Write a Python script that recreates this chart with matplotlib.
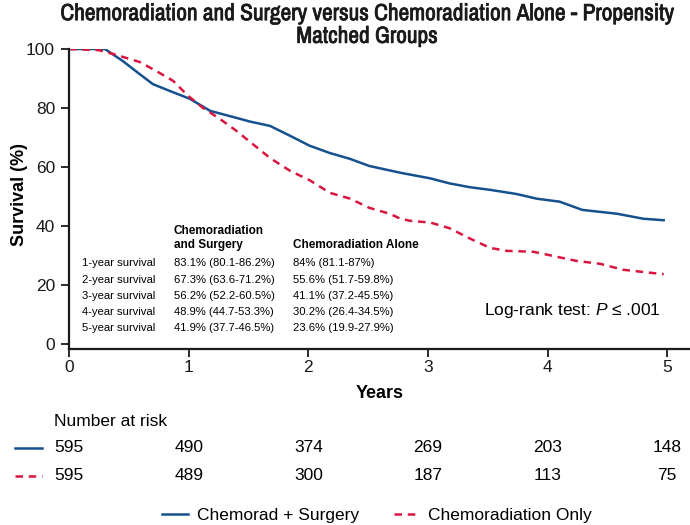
import matplotlib
matplotlib.use("Agg")
import matplotlib.pyplot as plt
import matplotlib.patheffects as pe
from matplotlib.lines import Line2D
from matplotlib.transforms import blended_transform_factory
from matplotlib import font_manager

plt.rcParams['font.family'] = ['Liberation Sans', 'DejaVu Sans']
plt.rcParams['mathtext.fontset'] = 'custom'
plt.rcParams['mathtext.it'] = 'Liberation Sans:italic'
plt.rcParams['mathtext.rm'] = 'Liberation Sans'

# Kaplan-Meier curves (years, survival %)
surgery_t = [0, 0.30, 0.45, 0.59, 0.70, 0.84, 1.01, 1.18, 1.43, 1.51, 1.68, 1.85,
             2.01, 2.18, 2.35, 2.51, 2.77, 3.02, 3.18, 3.35, 3.52, 3.74, 3.91,
             4.10, 4.29, 4.58, 4.80, 4.97]
surgery_s = [100, 100, 95.9, 91.5, 88.1, 85.8, 83.1, 79.0, 76.3, 75.4, 73.9, 70.5,
             67.2, 64.7, 62.7, 60.3, 58.0, 56.1, 54.4, 53.1, 52.2, 50.8, 49.2,
             48.2, 45.4, 44.1, 42.4, 41.9]
chemo_t = [0, 0.25, 0.37, 0.59, 0.73, 0.87, 0.99, 1.12, 1.26, 1.40, 1.54, 1.68,
           1.85, 2.01, 2.18, 2.35, 2.51, 2.68, 2.77, 2.85, 3.02, 3.18, 3.35, 3.52,
           3.66, 3.88, 4.02, 4.24, 4.44, 4.63, 4.85, 4.97]
chemo_s = [100, 99.6, 98.3, 95.6, 92.5, 89.2, 84.3, 80.0, 76.3, 72.2, 67.6, 63.0,
           58.6, 55.5, 51.2, 49.2, 46.1, 44.1, 42.4, 41.7, 41.1, 39.2, 35.7, 32.5,
           31.5, 31.2, 30.0, 28.1, 27.1, 25.1, 24.1, 23.6]

risk_years = [0, 1, 2, 3, 4, 5]
risk_surgery = [595, 490, 374, 269, 203, 148]
risk_chemo = [595, 489, 300, 187, 113, 75]

table_rows = ["1-year survival", "2-year survival", "3-year survival",
              "4-year survival", "5-year survival"]
table_surgery = ["83.1% (80.1-86.2%)", "67.3% (63.6-71.2%)", "56.2% (52.2-60.5%)",
                 "48.9% (44.7-53.3%)", "41.9% (37.7-46.5%)"]
table_chemo = ["84% (81.1-87%)", "55.6% (51.7-59.8%)", "41.1% (37.2-45.5%)",
               "30.2% (26.4-34.5%)", "23.6% (19.9-27.9%)"]

blue = "#15508f"
red = "#d8163f"
dash = (3.0, 2.3)

W, H = 690, 525
fig = plt.figure(figsize=(W / 100, H / 100), dpi=100)
ax = fig.add_axes([69 / W, 1 - 349 / H, (690 - 69) / W, 300 / H])


def fy(py):
    # pixel row -> figure fraction
    return 1 - py / H


ax.plot(surgery_t, surgery_s, color=blue, lw=1.8, solid_joinstyle="round")
ax.plot(chemo_t, chemo_s, color=red, lw=1.8, dashes=dash)

ax.set_xlim(0, 5.19)
ax.set_ylim(-1.8, 100)
ax.set_xticks(risk_years)
ax.set_yticks([0, 20, 40, 60, 80, 100])
for s in ["top", "right"]:
    ax.spines[s].set_visible(False)
for s in ["left", "bottom"]:
    ax.spines[s].set_linewidth(1.6)
    ax.spines[s].set_color("#1a1a1a")
ax.tick_params(direction="out", length=6, width=1.3, labelsize=12.5,
               colors="#1a1a1a", pad=4)
ax.tick_params(axis="x", pad=2)
ax.set_xlabel("Years", fontsize=13, fontweight="bold", labelpad=7)

fig.text(20 / W, fy(195), "Survival (%)", rotation=90, fontsize=13,
         fontweight="bold", ha="center", va="center")

# title: condensed face, thickened a little to look bold
title = "Chemoradiation and Surgery versus Chemoradiation Alone - Propensity\nMatched Groups"
narrow = [f.name for f in font_manager.fontManager.ttflist if "Narrow" in f.name]
if narrow:
    fig.text(367 / W, fy(25), title, family=[narrow[0], "Liberation Sans"],
             fontsize=16.8, fontweight="bold", ha="center", va="center", linespacing=1.1,
             path_effects=[pe.withStroke(linewidth=0.55, foreground="#1a1a1a")],
             color="#1a1a1a")
else:
    fig.text(367 / W, fy(25), title, fontsize=12.2, fontweight="bold",
             ha="center", va="center", linespacing=1.3)

# survival table inside the plot
fig.text(174 / W, fy(231), "Chemoradiation", fontsize=8.5, fontweight="bold", va="center")
fig.text(174 / W, fy(245), "and Surgery", fontsize=8.5, fontweight="bold", va="center")
fig.text(293 / W, fy(245), "Chemoradiation Alone", fontsize=8.5, fontweight="bold", va="center")
row_y = [263, 280, 296, 312, 328]
for lab, a, b, y in zip(table_rows, table_surgery, table_chemo, row_y):
    fig.text(82 / W, fy(y), lab, fontsize=8.1, va="center")
    fig.text(174 / W, fy(y), a, fontsize=8.1, va="center")
    fig.text(293 / W, fy(y), b, fontsize=8.1, va="center")

ax.text(4.95, 0.13, "Log-rank test: $P$ \u2264 .001",
        transform=blended_transform_factory(ax.transData, ax.transAxes),
        fontsize=12.5, ha="right", va="center")

# number at risk
fig.text(54 / W, fy(422), "Number at risk", fontsize=12.5, va="center")
tr = blended_transform_factory(ax.transData, fig.transFigure)
for yr, n1, n2 in zip(risk_years, risk_surgery, risk_chemo):
    ax.text(yr, fy(448), str(n1), transform=tr, fontsize=12.5, ha="center", va="center")
    ax.text(yr, fy(476), str(n2), transform=tr, fontsize=12.5, ha="center", va="center")
fig.add_artist(Line2D([15 / W, 42 / W], [fy(448), fy(448)], color=blue, lw=1.8))
fig.add_artist(Line2D([15 / W, 42 / W], [fy(476), fy(476)], color=red, lw=1.8, dashes=dash))

handles = [Line2D([], [], color=blue, lw=1.8),
           Line2D([], [], color=red, lw=1.8, dashes=dash)]
fig.legend(handles, ["Chemorad + Surgery", "Chemoradiation Only"], loc="center",
           bbox_to_anchor=(377 / W, fy(515)), ncol=2, frameon=False, fontsize=12.5,
           handlelength=1.5, handletextpad=0.5, columnspacing=2.0)

fig.savefig("out.png", dpi=100)
